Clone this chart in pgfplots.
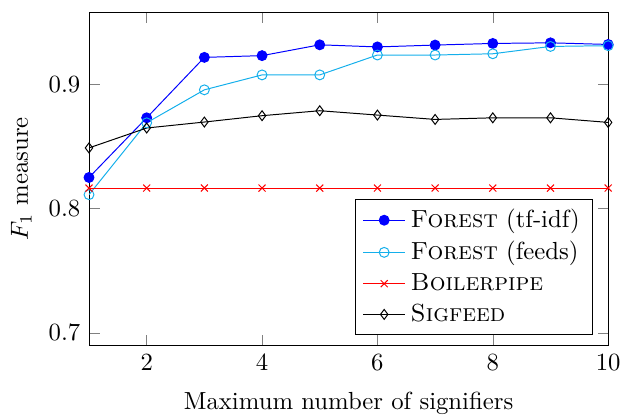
\documentclass[border=0pt]{standalone}
\usepackage{pgfplots}
\pgfplotsset{compat=1.18}
\definecolor{feedcyan}{RGB}{20,175,235}
\begin{document}
\begin{tikzpicture}
\begin{axis}[
    scale only axis,
    width=210pt, height=134.8pt,
    xmin=1, xmax=10,
    ymin=0.69, ymax=0.958,
    xtick={2,4,6,8,10},
    ytick={0.7,0.8,0.9},
    yticklabel style={/pgf/number format/fixed, /pgf/number format/precision=1},
    xlabel={Maximum number of signifiers},
    xlabel style={yshift=-2pt},
    ylabel={$F_1$ measure},
    legend pos=south east,
    legend cell align=left,
]
\addplot[color=blue, mark=*, mark options={fill=blue}] coordinates {
    (1,0.825) (2,0.873) (3,0.9216) (4,0.923) (5,0.9317)
    (6,0.930) (7,0.9315) (8,0.9328) (9,0.9333) (10,0.932)
};
\addplot[color=feedcyan, mark=o] coordinates {
    (1,0.8112) (2,0.869) (3,0.8955) (4,0.9075) (5,0.9075)
    (6,0.9235) (7,0.9235) (8,0.9245) (9,0.9304) (10,0.931)
};
\addplot[color=red, mark=x, mark options={solid, red}] coordinates {
    (1,0.8165) (2,0.8165) (3,0.8165) (4,0.8165) (5,0.8165)
    (6,0.8165) (7,0.8165) (8,0.8165) (9,0.8165) (10,0.8165)
};
\addplot[color=black, mark=diamond] coordinates {
    (1,0.8488) (2,0.8648) (3,0.8696) (4,0.8747) (5,0.8787)
    (6,0.8752) (7,0.8717) (8,0.873) (9,0.873) (10,0.8693)
};
\legend{\textsc{Forest} (tf-idf), \textsc{Forest} (feeds), \textsc{Boilerpipe}, \textsc{Sigfeed}}
\end{axis}
% crop tight like the reference
\pgfresetboundingbox
\path ([shift={(-36pt,-28.3pt)}]current axis.south west)
    rectangle ([shift={(6pt,4.9pt)}]current axis.north east);
\end{tikzpicture}
\end{document}
